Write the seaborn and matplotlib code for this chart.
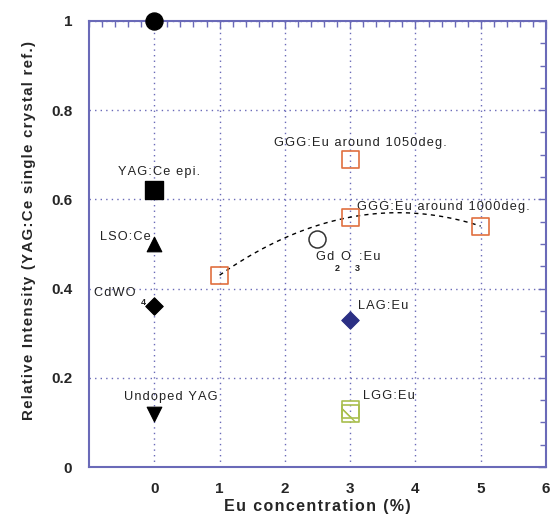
import matplotlib
matplotlib.use("Agg")
import matplotlib.pyplot as plt
import seaborn as sns
import numpy as np
import pandas as pd

# ---- data ----
ref_names = ["YAG:Ce single", "YAG:Ce epi.", "LSO:Ce", "CdWO4", "Undoped YAG"]
ref_x = [0, 0, 0, 0, 0]
ref_y = [1.00, 0.62, 0.50, 0.36, 0.12]

ggg1000_x = [1, 3, 5]
ggg1000_y = [0.43, 0.56, 0.54]
ggg1050_x = [3]
ggg1050_y = [0.69]
gdo_x = [2.5]
gdo_y = [0.51]
lag_x = [3]
lag_y = [0.33]
lgg_x = [3, 3]
lgg_y = [0.12, 0.13]

x_ticks = [0, 1, 2, 3, 4, 5, 6]
y_ticks = [0, 0.2, 0.4, 0.6, 0.8, 1.0]
y_ticklabels = ["0", "0.2", "0.4", "0.6", "0.8", "1"]

sns.set_theme(style="white")
plt.rcParams['font.family'] = ['Liberation Sans', 'DejaVu Sans']

blue = "#6a6ab8"
fig = plt.figure(figsize=(5.51, 5.23), dpi=100)
ax = fig.add_axes([0.1615, 0.107, 0.8295, 0.853])

# fitted curve through GGG:Eu 1000deg points
sns.regplot(x=ggg1000_x, y=ggg1000_y, order=2, ci=None, scatter=False, ax=ax,
            truncate=True, line_kws=dict(color="black", lw=1, ls=(0, (3, 3))))

markers = ["o", "s", "^", "D", "v"]
sizes = [150, 150, 110, 80, 110]
for i in range(len(ref_x)):
    sns.scatterplot(x=[ref_x[i]], y=[ref_y[i]], marker=markers[i], s=sizes[i], color="black",
                    edgecolor="black", ax=ax, clip_on=False, zorder=5, legend=False)

orange = "#e0703f"
sns.scatterplot(x=ggg1000_x + ggg1050_x, y=ggg1000_y + ggg1050_y, marker="s", s=150,
                facecolor="none", edgecolor=orange, linewidth=1.2, ax=ax, zorder=5)
sns.scatterplot(x=gdo_x, y=gdo_y, marker="o", s=150, facecolor="none",
                edgecolor="#333333", linewidth=1.1, ax=ax, zorder=5)
sns.scatterplot(x=lag_x, y=lag_y, marker="D", s=80, color="#2b2f84",
                edgecolor="#2b2f84", ax=ax, zorder=5)
ax.scatter(lgg_x, lgg_y, marker="s", s=150, facecolor="none", edgecolor="#a9bf4e",
           linewidth=1.2, hatch="\\", zorder=5)


def sp(s):
    return "\u200a".join(s)


tk = dict(fontsize=9.2, color="#222222")
sub = dict(fontsize=6.5, color="#222222", fontweight="bold")
ax.text(0.07, 0.661, sp("YAG:Ce epi."), ha="center", va="center", **tk)
ax.text(-0.05, 0.516, sp("LSO:Ce"), ha="right", va="center", **tk)
ax.text(-0.92, 0.39, sp("CdWO"), ha="left", va="center", **tk)
ax.text(-0.2, 0.368, "4", ha="left", va="center", **sub)
ax.text(-0.47, 0.157, sp("Undoped YAG"), ha="left", va="center", **tk)
ax.text(3.15, 0.726, sp("GGG:Eu around 1050deg."), ha="center", va="center", **tk)
ax.text(3.1, 0.583, sp("GGG:Eu around 1000deg."), ha="left", va="center", **tk)
ax.text(2.47, 0.47, sp("Gd"), ha="left", va="center", **tk)
ax.text(2.77, 0.446, "2", ha="left", va="center", **sub)
ax.text(2.85, 0.47, "O", ha="left", va="center", **tk)
ax.text(3.07, 0.446, "3", ha="left", va="center", **sub)
ax.text(3.13, 0.47, sp(":Eu"), ha="left", va="center", **tk)
ax.text(3.12, 0.36, sp("LAG:Eu"), ha="left", va="center", **tk)
ax.text(3.2, 0.16, sp("LGG:Eu"), ha="left", va="center", **tk)

ax.set_xlim(-1, 6)
ax.set_ylim(0, 1)
ax.set_xticks(x_ticks)
ax.set_xticklabels([str(v) for v in x_ticks])
ax.set_yticks(y_ticks)
ax.set_yticklabels(y_ticklabels)
ax.set_xticks(np.arange(-1, 6.01, 0.2), minor=True)
ax.set_yticks(np.arange(0, 1.001, 0.05), minor=True)
ax.tick_params(which="both", direction="in", top=True, right=True, color=blue,
               labelsize=11)
ax.tick_params(axis="x", pad=11)
ax.tick_params(axis="y", pad=12)
ax.tick_params(which="major", length=6, width=1)
ax.tick_params(which="minor", length=4, width=1)
for lab in ax.get_xticklabels() + ax.get_yticklabels():
    lab.set_fontweight("bold")
ax.grid(True, which="major", color=blue, ls=(0, (1, 3)), lw=1)
for s in ax.spines.values():
    s.set_color(blue)
    s.set_linewidth(1.5)
ax.set_xlabel(sp("Eu concentration (%)"), fontsize=11.5, fontweight="bold")
ax.set_ylabel(sp("Relative Intensity (YAG:Ce single crystal ref.)"), fontsize=10.8,
              fontweight="bold")
ax.xaxis.set_label_coords(0.5, -0.072)
ax.yaxis.set_label_coords(-0.115, 0.53)

fig.savefig("out.png", dpi=100)
